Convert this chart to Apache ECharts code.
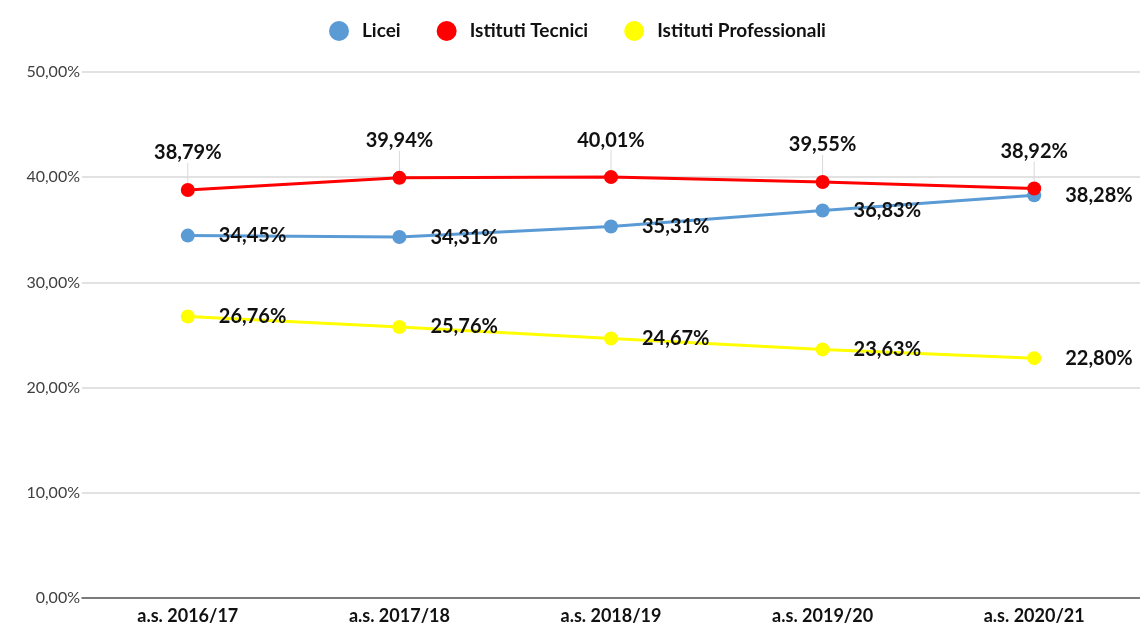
<!DOCTYPE html>
<html lang="it">
<head>
  <meta charset="UTF-8">
  <title>Iscritti per indirizzo</title>
  <script src="https://cdn.jsdelivr.net/npm/echarts@6/dist/echarts.min.js"></script>
</head>
<body style="margin:0">
  <div id="main" style="width:1140px;height:628px;"></div>
  <script type="text/javascript">
    var anni = ['a.s. 2016/17', 'a.s. 2017/18', 'a.s. 2018/19', 'a.s. 2019/20', 'a.s. 2020/21'];
    var licei = [34.45, 34.31, 35.31, 36.83, 38.28];
    var tecnici = [38.79, 39.94, 40.01, 39.55, 38.92];
    var professionali = [26.76, 25.76, 24.67, 23.63, 22.80];

    function pct(v) {
      return v.toFixed(2).replace('.', ',') + '%';
    }

    var myChart = echarts.init(document.getElementById('main'));

    var labelRight = {
      show: true,
      position: 'right',
      distance: 24,
      fontFamily: 'Lato',
      fontWeight: 'bold',
      fontSize: 20,
      color: '#111',
      formatter: function (p) { return pct(p.value); }
    };

    var option = {
      textStyle: { fontFamily: 'Lato' },
      legend: {
        top: 16,
        left: 324,
        itemGap: 36,
        itemWidth: 20,
        itemHeight: 20,
        icon: 'circle',
        textStyle: { fontWeight: 'bold', fontSize: 19, color: '#111', padding: [0, 0, 0, 8] },
        data: ['Licei', 'Istituti Tecnici', 'Istituti Professionali']
      },
      grid: { left: 82, right: -2, top: 72, bottom: 30, containLabel: false },
      xAxis: {
        type: 'category',
        data: anni,
        boundaryGap: true,
        axisTick: { show: false },
        axisLine: { lineStyle: { color: '#595959', width: 1.5 } },
        axisLabel: { fontWeight: 'bold', fontSize: 18, color: '#111', margin: 9 }
      },
      yAxis: {
        type: 'value',
        min: 0,
        max: 50,
        interval: 10,
        axisLine: { show: false },
        axisTick: { show: false },
        splitLine: { lineStyle: { color: '#d9d9d9', width: 1.5 } },
        axisLabel: {
          fontSize: 16,
          color: '#404040',
          margin: 2,
          formatter: function (v) { return pct(v); }
        }
      },
      series: [
        {
          name: 'Licei',
          type: 'line',
          data: licei,
          symbol: 'circle',
          symbolSize: 14,
          itemStyle: { color: '#5b9bd5' },
          lineStyle: { width: 3 },
          label: labelRight
        },
        {
          name: 'Istituti Tecnici',
          type: 'line',
          data: tecnici,
          symbol: 'circle',
          symbolSize: 14,
          itemStyle: { color: '#ff0000' },
          lineStyle: { width: 3 },
          label: {
            show: true,
            position: 'top',
            distance: 4,
            fontFamily: 'Lato',
            fontWeight: 'bold',
            fontSize: 20,
            color: '#111',
            formatter: function (p) { return pct(p.value); }
          },
          labelLayout: { dy: -16 },
          labelLine: { show: true, lineStyle: { color: '#d9d9d9', width: 1 } }
        },
        {
          name: 'Istituti Professionali',
          type: 'line',
          data: professionali,
          symbol: 'circle',
          symbolSize: 14,
          itemStyle: { color: '#ffff00' },
          lineStyle: { width: 3 },
          label: labelRight
        }
      ]
    };

    myChart.setOption(option);
  </script>
</body>
</html>
